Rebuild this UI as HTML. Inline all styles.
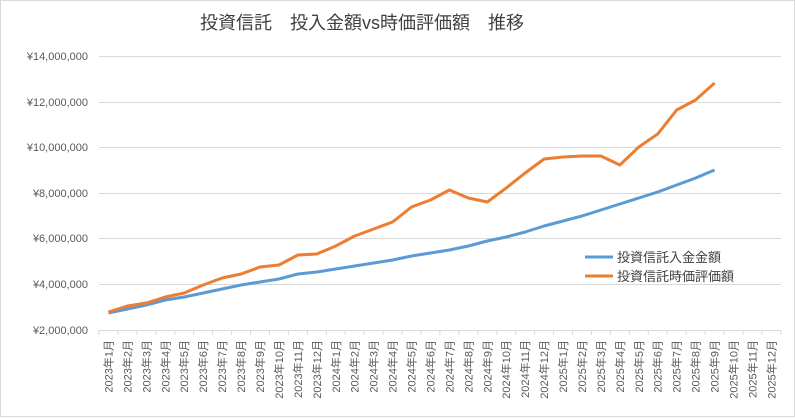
<!DOCTYPE html>
<html><head><meta charset="utf-8"><style>
body{margin:0;background:#fff}
svg{display:block;font-family:"Liberation Sans","Noto Sans CJK JP",sans-serif}
</style></head><body>
<svg width="795" height="418" viewBox="0 0 795 418">
<rect x="0.5" y="0.5" width="794" height="416" fill="#fff" stroke="#d9d9d9"/>
<text x="200" y="29" font-size="18" fill="#404040">投資信託　投入金額vs時価評価額　推移</text>
<g stroke="#d9d9d9" stroke-width="1">
<line x1="99" x2="781" y1="56.5" y2="56.5"/>
<line x1="99" x2="781" y1="102.5" y2="102.5"/>
<line x1="99" x2="781" y1="147.5" y2="147.5"/>
<line x1="99" x2="781" y1="193.5" y2="193.5"/>
<line x1="99" x2="781" y1="238.5" y2="238.5"/>
<line x1="99" x2="781" y1="284.5" y2="284.5"/>
<line x1="99" x2="781" y1="330.5" y2="330.5"/>
</g>
<g font-size="11" fill="#595959" text-anchor="end">
<text x="88" y="60">¥14,000,000</text>
<text x="88" y="106">¥12,000,000</text>
<text x="88" y="151">¥10,000,000</text>
<text x="88" y="197">¥8,000,000</text>
<text x="88" y="242">¥6,000,000</text>
<text x="88" y="288">¥4,000,000</text>
<text x="88" y="334">¥2,000,000</text>
</g>
<g id="ticks" stroke="#d9d9d9"></g>
<g id="xl" font-size="11" fill="#595959"></g>
<polyline id="blue" fill="none" stroke="#5b9bd5" stroke-width="3" stroke-linejoin="round"/>
<polyline id="orange" fill="none" stroke="#ed7d31" stroke-width="3" stroke-linejoin="round"/>
<line x1="585" x2="613" y1="257" y2="257" stroke="#5b9bd5" stroke-width="3"/>
<line x1="585" x2="613" y1="276" y2="276" stroke="#ed7d31" stroke-width="3"/>
<g font-size="13" fill="#404040">
<text x="617" y="262">投資信託入金金額</text>
<text x="617" y="281">投資信託時価評価額</text>
</g>
</svg>
<script>
var b=[313,309,305,300,297,293,289,285,282,279,274,272,269,266,263,260,256,253,250,246,241,237,232,226,221,216,210,204,198,192,185,178,170];
var o=[312,306,303,297,293,285,278,274,267,265,255,254,246,236,229,222,207,200,190,198,202,188,173,159,157,156,156,165,147,134,110,100,83];
function X(i){return 99+9.47+i*18.94;}
document.getElementById('blue').setAttribute('points',b.map((y,i)=>X(i)+','+y).join(' '));
document.getElementById('orange').setAttribute('points',o.map((y,i)=>X(i)+','+y).join(' '));
var ns='http://www.w3.org/2000/svg',t=document.getElementById('ticks'),xl=document.getElementById('xl');
for(var i=0;i<=36;i++){var l=document.createElementNS(ns,'line');var x=99+i*18.94;l.setAttribute('x1',x);l.setAttribute('x2',x);l.setAttribute('y1',330);l.setAttribute('y2',335);t.appendChild(l);}
for(var i=0;i<36;i++){var yr=2023+Math.floor(i/12),m=i%12+1;var tx=document.createElementNS(ns,'text');var x=X(i)+4;tx.setAttribute('transform','translate('+x+',340) rotate(-90)');tx.setAttribute('text-anchor','end');tx.textContent=yr+'年'+m+'月';xl.appendChild(tx);}
</script>
</body></html>
